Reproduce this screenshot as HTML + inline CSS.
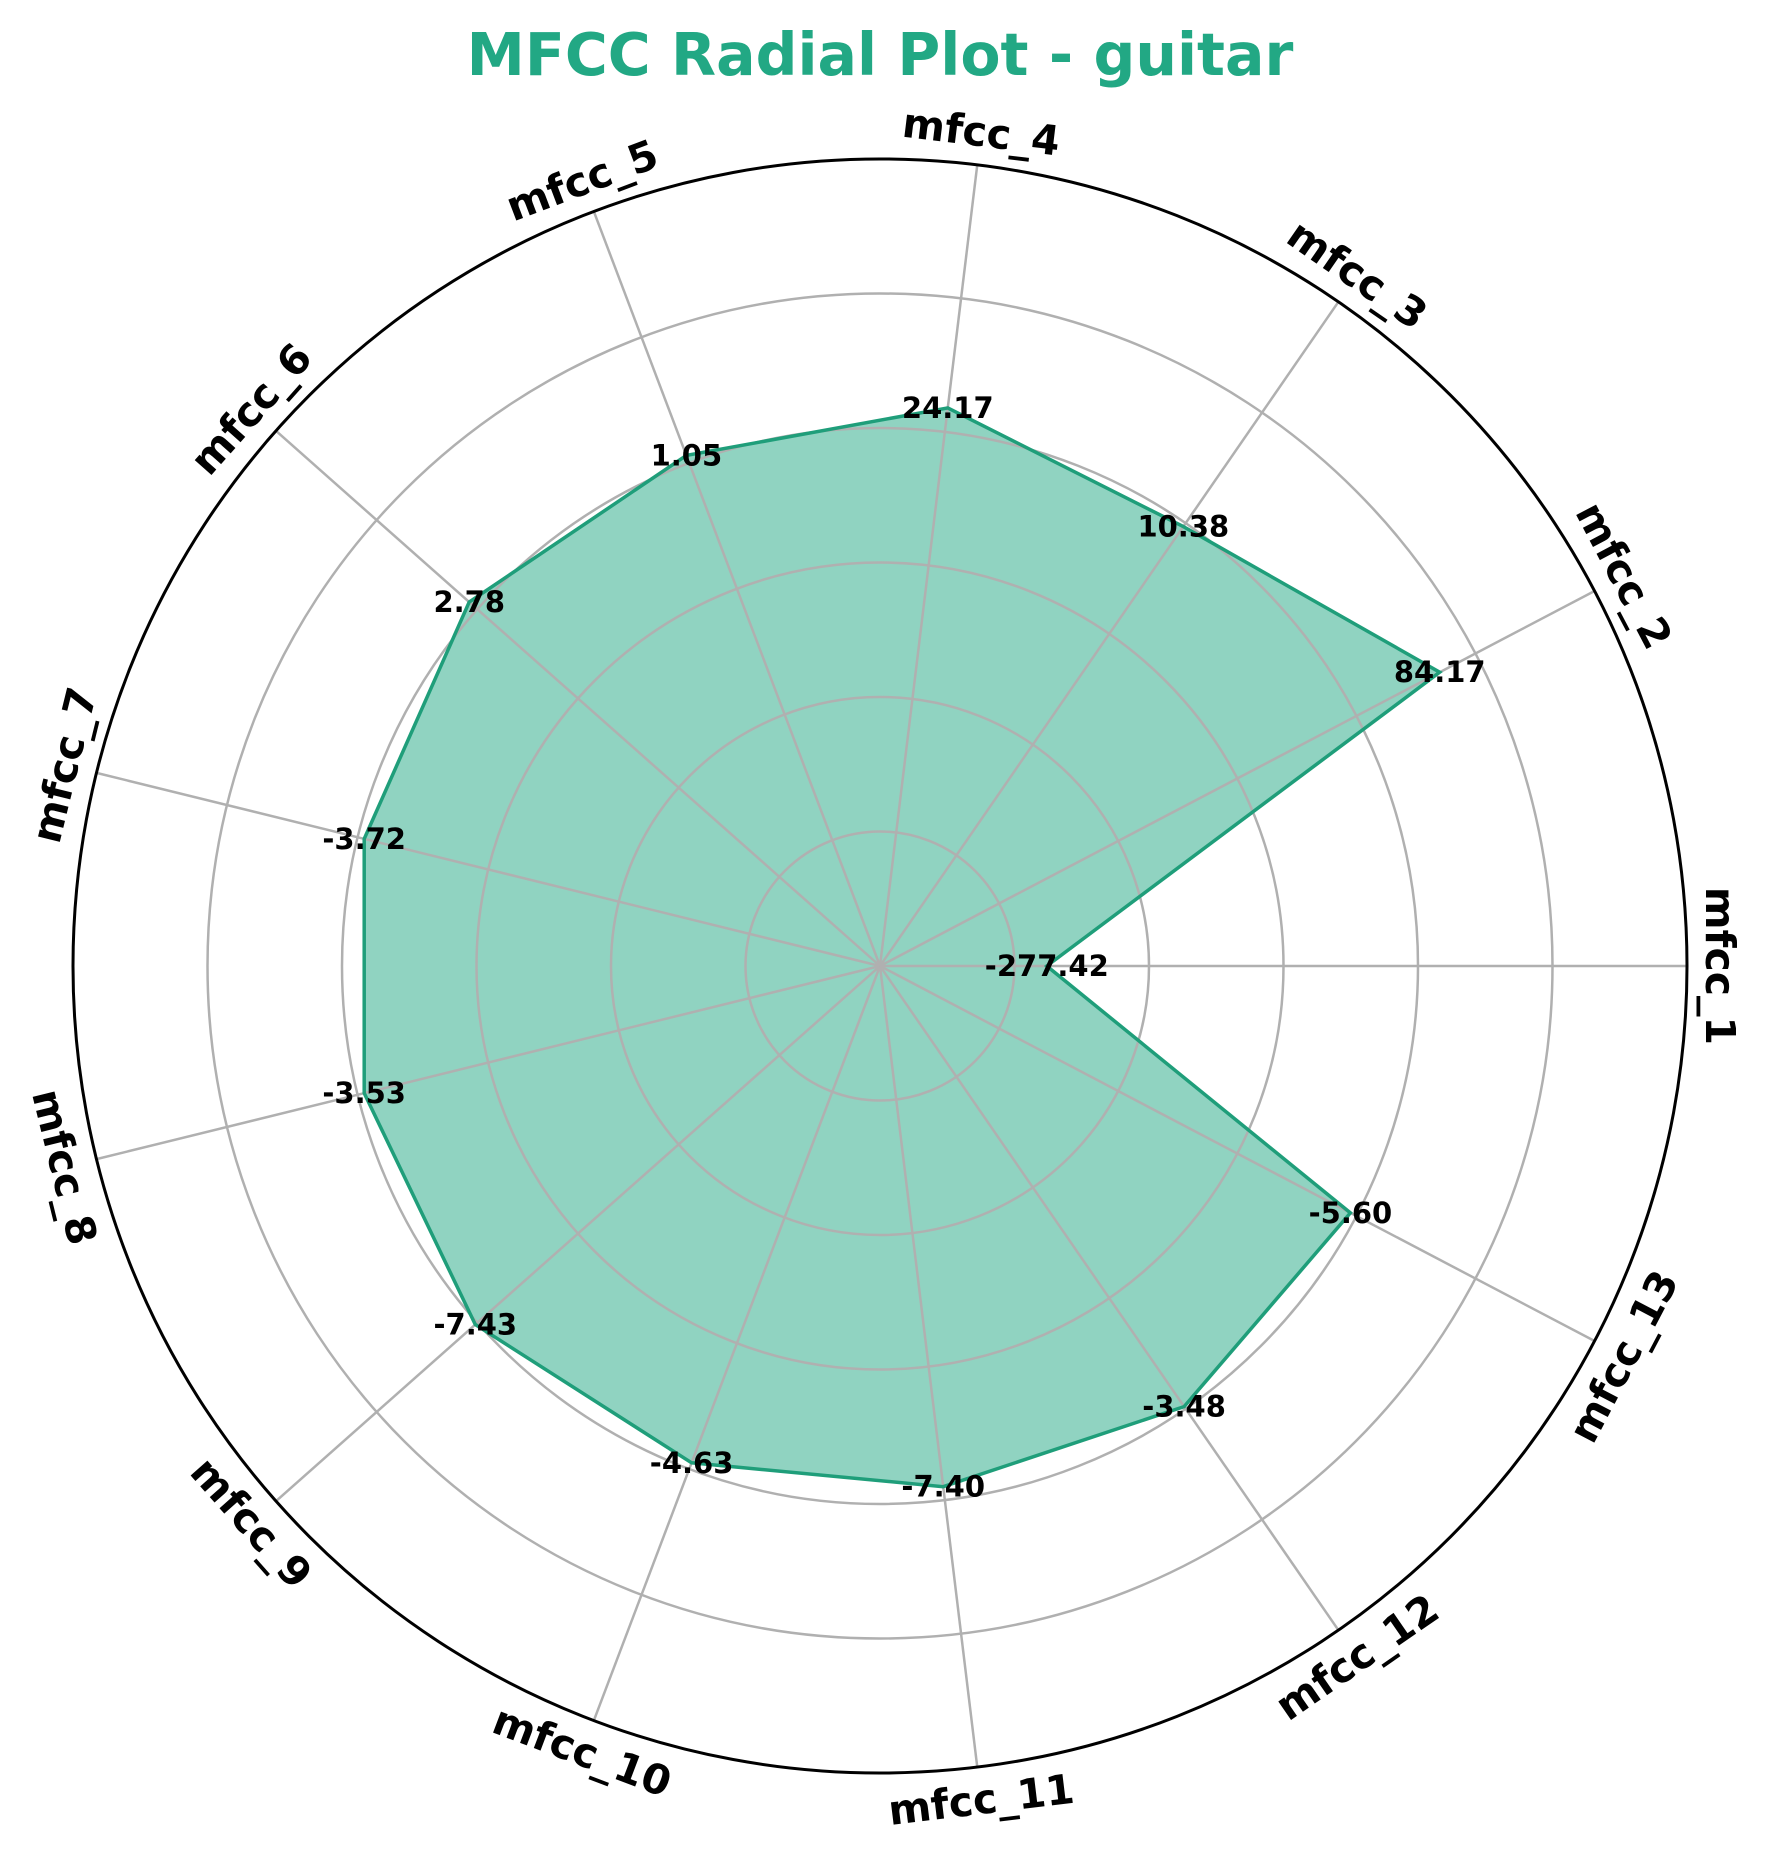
<!DOCTYPE html>
<html><head><meta charset="utf-8"><style>
body{margin:0;background:#fff}
svg{display:block;font-family:"DejaVu Sans","Liberation Sans",sans-serif;font-weight:bold}
</style></head><body>
<svg id="chart" width="1768" height="1858" viewBox="0 0 1768 1858" xmlns="http://www.w3.org/2000/svg">
<rect width="1768" height="1858" fill="#fff"/>
<text x="880" y="75" text-anchor="middle" font-size="58.5" fill="#22a884">MFCC Radial Plot - guitar</text>
<g id="series"></g>
<g id="grid"></g>
<g id="labels"></g>
</svg>
<script>
const categories = ["mfcc_1","mfcc_2","mfcc_3","mfcc_4","mfcc_5","mfcc_6","mfcc_7","mfcc_8","mfcc_9","mfcc_10","mfcc_11","mfcc_12","mfcc_13"];
const valueLabels = ["-277.42","84.17","10.38","24.17","1.05","2.78","-3.72","-3.53","-7.43","-4.63","-7.40","-3.48","-5.60"];
const plottedRadius = [1.24,4.70,3.97,4.18,4.06,4.08,3.95,3.95,4.02,3.95,3.90,3.98,3.95];
const ringTicks = [1,2,3,4,5];
const rMax = 6;

const NS="http://www.w3.org/2000/svg";
const cx=880, cy=966, R=807;
const rScale=v=>v/rMax*R;
const ang=i=>i*2*Math.PI/categories.length;
const px=(i,v)=>cx+rScale(v)*Math.cos(ang(i));
const py=(i,v)=>cy-rScale(v)*Math.sin(ang(i));
function mk(tag,attrs,parent){const e=document.createElementNS(NS,tag);for(const k in attrs)e.setAttribute(k,attrs[k]);parent.appendChild(e);return e;}
const grid=document.getElementById('grid'),series=document.getElementById('series'),labels=document.getElementById('labels');

let pts=categories.map((c,i)=>px(i,plottedRadius[i]).toFixed(1)+','+py(i,plottedRadius[i]).toFixed(1)).join(' ');
const area=mk('polygon',{points:pts,fill:'#22a884','fill-opacity':0.5,stroke:'none'},series);



ringTicks.forEach(t=>{
  const c=mk('circle',{cx:cx,cy:cy,r:rScale(t),fill:'none',stroke:'#b0b0b0','stroke-width':2.5},grid);
  
  
});
categories.forEach((c,i)=>{
  const l=mk('line',{x1:cx,y1:cy,x2:px(i,rMax),y2:py(i,rMax),stroke:'#b0b0b0','stroke-width':2.5},grid);
  
  
});
const outline=mk('polygon',{points:pts,fill:'none',stroke:'#1f9e7a','stroke-width':3.5,'stroke-linejoin':'miter'},grid);


const outer=mk('circle',{cx:cx,cy:cy,r:R,fill:'none',stroke:'#000','stroke-width':3},grid);



categories.forEach((c,i)=>{
  const t=mk('text',{x:px(i,plottedRadius[i]),y:py(i,plottedRadius[i]),'text-anchor':'middle','dominant-baseline':'central','font-size':29,fill:'#000'},labels);
  t.textContent=valueLabels[i];
  
  
});
categories.forEach((c,i)=>{
  const deg=ang(i)*180/Math.PI;
  let rot=90-deg; if(rot<-90)rot+=180; if(rot>90)rot-=180;
  const x=cx+840*Math.cos(ang(i)), y=cy-840*Math.sin(ang(i));
  const t=mk('text',{x:x,y:y,'text-anchor':'middle','dominant-baseline':'central','font-size':41,fill:'#000',transform:`rotate(${rot.toFixed(2)} ${x.toFixed(1)} ${y.toFixed(1)})`},labels);
  t.textContent=c;
  
  
});
</script>
</body></html>
